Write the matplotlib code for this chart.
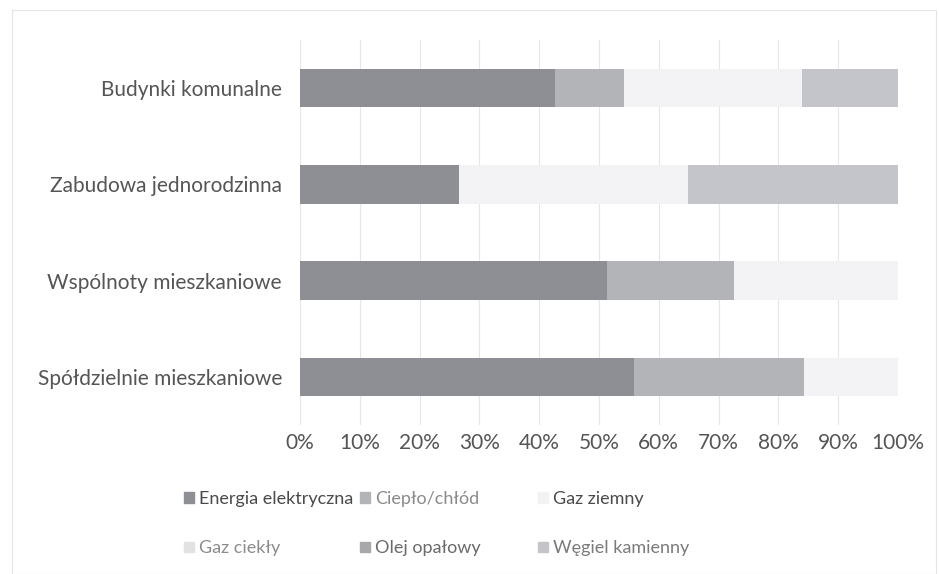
import matplotlib
matplotlib.use('Agg')
import matplotlib.pyplot as plt
from matplotlib.patches import Patch, Rectangle
import numpy as np

plt.rcParams['font.family'] = ['Lato', 'DejaVu Sans']

kategorie = ['Spółdzielnie mieszkaniowe', 'Wspólnoty mieszkaniowe',
             'Zabudowa jednorodzinna', 'Budynki komunalne']
nosniki = ['Energia elektryczna', 'Ciepło/chłód', 'Gaz ziemny',
           'Gaz ciekły', 'Olej opałowy', 'Węgiel kamienny']

# udzialy w % (kolejnosc jak kategorie)
energia = [55.9, 51.3, 26.6, 42.6]
cieplo = [28.4, 21.2, 0.0, 11.6]
gaz_ziemny = [15.7, 27.5, 38.3, 29.8]
gaz_ciekly = [0.0, 0.0, 0.0, 0.0]
olej = [0.0, 0.0, 0.0, 0.0]
wegiel = [0.0, 0.0, 35.1, 16.0]

serie = [energia, cieplo, gaz_ziemny, gaz_ciekly, olej, wegiel]
kolory = ['#8d8f95', '#b3b4b8', '#f3f2f5', '#e2e2e2', '#a8a8aa', '#c3c5cb']
kolory_tekstu = ['#4a4a4a', '#8a8a8a', '#4a4a4a', '#8c8c8c', '#6a6a6a', '#7a7a7a']

fig = plt.figure(figsize=(9.39, 5.74), dpi=100)
fig.patches.append(Rectangle((12/939, 0.0), 924/939, 1 - 10/574, transform=fig.transFigure,
                             fill=False, edgecolor='#e4e4e4', linewidth=0.8))
ax = fig.add_axes([300/939, 1 - 425/574, 598/939, 385/574])

y = np.arange(len(kategorie))
lewo = np.zeros(len(kategorie))
for s, k, n in zip(serie, kolory, nosniki):
    ax.barh(y, s, left=lewo, height=0.4, color=k, label=n, zorder=2)
    lewo += np.array(s)

ax.set_xlim(0, 100)
ax.set_ylim(-0.5, 3.5)
ax.set_xticks(np.arange(0, 101, 10))
ax.set_xticklabels([f'{v}%' for v in range(0, 101, 10)])
ax.set_yticks(y)
ax.set_yticklabels(kategorie)
ax.grid(axis='x', color='#e6e6e6', linewidth=0.8, zorder=0)
for s in ax.spines.values():
    s.set_visible(False)
ax.tick_params(axis='both', length=0, labelsize=15, colors='#555555')
ax.tick_params(axis='x', pad=6)
ax.tick_params(axis='y', pad=13)

# legenda: trzy kolumny po dwa wpisy, rowne odstepy jak w Excelu
kolumny_x = [184, 360, 538]
for c, x0 in enumerate(kolumny_x):
    idx = [c, c + 3]
    leg = fig.legend([Patch(color=kolory[i]) for i in idx], [nosniki[i] for i in idx],
                     loc='upper left', bbox_to_anchor=(x0/939, 1 - 491/574),
                     frameon=False, fontsize=13, handlelength=0.55, handleheight=0.55,
                     handletextpad=0.3, labelspacing=1.85, borderpad=0, borderaxespad=0)
    for t, i in zip(leg.get_texts(), idx):
        t.set_color(kolory_tekstu[i])

fig.savefig('out.png', dpi=100)
